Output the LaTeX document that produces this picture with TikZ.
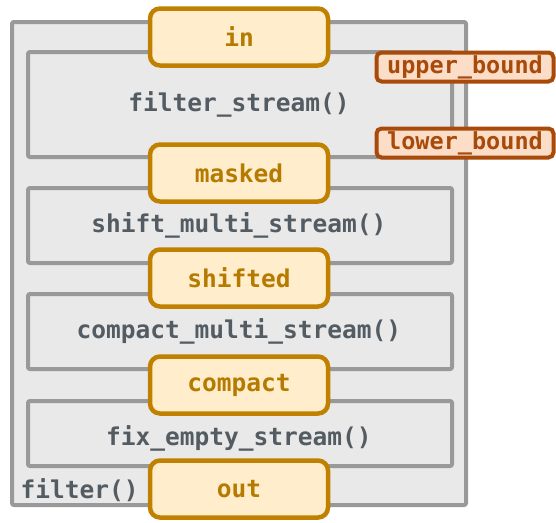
\documentclass[tikz,border=0pt]{standalone}
\usepackage{fontspec}
\setmonofont{DejaVu Sans Mono}
\usepackage{tikz}
\usetikzlibrary{positioning}

\definecolor{boxgray}{HTML}{999999}
\definecolor{boxfill}{HTML}{E9E9E9}
\definecolor{fntext}{HTML}{545C63}
\definecolor{streamdraw}{HTML}{C08000}
\definecolor{streamfill}{HTML}{FFEDCB}
\definecolor{streamtext}{HTML}{B57A00}
\definecolor{boundraw}{HTML}{A84A0A}
\definecolor{boundfill}{HTML}{FBDDC8}

\tikzset{
    fnbox/.style={draw=boxgray, fill=boxfill, line width=4pt, rounded corners=2pt},
    fnlabel/.style={text=fntext, font=\ttfamily\bfseries\fontsize{24.5}{24.5}\selectfont},
    stream/.style={draw=streamdraw, fill=streamfill, line width=4.5pt, rounded corners=10pt,
        minimum width=178pt, minimum height=57pt, inner sep=0pt,
        text=streamtext, font=\ttfamily\bfseries\fontsize{24.5}{24.5}\selectfont},
    bound/.style={draw=boundraw, fill=boundfill, line width=4pt, rounded corners=5pt,
        minimum width=177pt, minimum height=29pt, inner sep=0pt,
        text=boundraw, font=\ttfamily\bfseries\fontsize{23.5}{23.5}\selectfont}
}

\begin{document}
\begin{tikzpicture}[x=1pt, y=-1pt]
            \useasboundingbox (0,0) rectangle (556,522);

            \draw[fnbox]   (12,22)  rectangle (466,505);
            \draw[fnbox]   (28,52)  rectangle (452,157);
            \draw[fnbox]   (28,188) rectangle (452,263);
            \draw[fnbox]   (28,294) rectangle (452,369);
            \draw[fnbox]   (28,401) rectangle (452,466);

            \node[fnlabel] (fstream) at (239,104) {filter\_stream()};
            \node[fnlabel] (fshift)  at (239,225) {shift\_multi\_stream()};
            \node[fnlabel] (fcompact) at (239,331) {compact\_multi\_stream()};
            \node[fnlabel] (ffix)    at (239,438) {fix\_empty\_stream()};
            \node[fnlabel, anchor=west] (ffilter) at (17,490) {filter()};

            \node[stream] (in)      at (239,37)  {in};
            \node[stream] (masked)  at (239,173) {masked};
            \node[stream] (shifted) at (239,278) {shifted};
            \node[stream] (compact) at (239,385) {compact};
            \node[stream] (out)     at (239,489) {out};

            \node[bound] (upper) at (465,67)  {upper\_bound};
            \node[bound] (lower) at (465,143) {lower\_bound};
        \end{tikzpicture}
\end{document}
